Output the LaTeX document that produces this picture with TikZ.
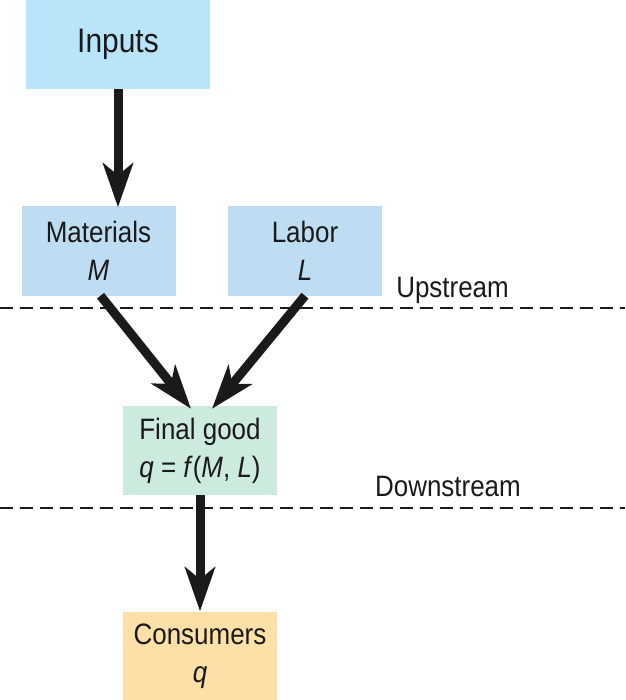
\documentclass[tikz,border=0pt]{standalone}
\usepackage{fontspec}
\setmainfont{Liberation Sans}[FakeStretch=0.88]
\usetikzlibrary{arrows.meta}
\definecolor{inputc}{HTML}{B9E5FA}
\definecolor{factc}{HTML}{BEDCF2}
\definecolor{finalc}{HTML}{CCEBDC}
\definecolor{consc}{HTML}{FCE0A8}
\definecolor{ink}{HTML}{1A1A1A}
\tikzset{
  box/.style={draw=none, minimum width=154pt, minimum height=89pt, inner sep=0pt,
    align=center, text=ink, font=\fontsize{29.5}{38}\selectfont},
  flow/.style={draw=ink, line width=9pt, -{Stealth[length=44pt, width=30pt, inset=12pt]}},
  divider/.style={draw=ink, line width=2.5pt, dash pattern=on 13pt off 7pt},
  lab/.style={font=\fontsize{29.5}{30}\selectfont, text=ink, inner sep=0pt}
}
\begin{document}
\begin{tikzpicture}[x=1pt, y=-1pt]
\useasboundingbox (0,0) rectangle (625,700);
\node[box, fill=inputc, minimum width=184pt, font=\fontsize{34}{38}\selectfont] (inputs) at (118,44.5) {Inputs};
\node[box, fill=factc] (mat) at (98.5,251) {Materials\\\textit{M}};
\node[box, fill=factc] (lab) at (305,251) {Labor\\\textit{L}};
\node[box, fill=finalc] (fin) at (200,450.5) {Final good\\\textit{q} = \textit{f}(\textit{M}, \textit{L})};
\node[box, fill=consc] (cons) at (200,656) {Consumers\\\textit{q}};
\node[lab, anchor=base east] (up) at (509,297) {Upstream};
\node[lab, anchor=base east] (down) at (521,496) {Downstream};
\coordinate (d1l) at (0,308);
\coordinate (d1r) at (625,308);
\coordinate (d2l) at (0,508);
\coordinate (d2r) at (625,508);
\draw[divider] (d1l) -- (d1r);
\draw[divider] (d2l) -- (d2r);
\draw[flow] (inputs.south) -- ([yshift=-1pt]inputs.south |- mat.north);
\draw[flow] ([xshift=2pt]mat.south) -- ([xshift=-9pt,yshift=-3pt]fin.north);
\draw[flow] (lab.south) -- ([xshift=12pt,yshift=-3pt]fin.north);
\draw[flow] (fin.south) -- (cons.north);
\end{tikzpicture}
\end{document}
